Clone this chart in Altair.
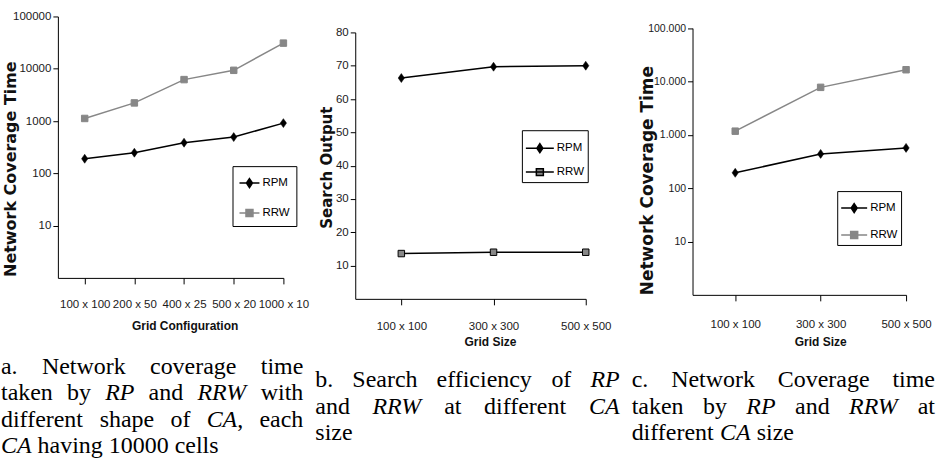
import altair as alt
import pandas as pd

# ---------------- data ----------------
series_names = ["RPM", "RRW"]

grid_configs = ["100 x 100", "200 x 50", "400 x 25", "500 x 20", "1000 x 10"]
a_rpm = [190, 248, 385, 493, 912]
a_rrw = [1120, 2220, 6200, 9330, 30900]

grid_sizes = ["100 x 100", "300 x 300", "500 x 500"]
b_rpm = [66.3, 69.7, 70.0]
b_rrw = [13.6, 14.0, 14.0]

c_rpm = [194, 439, 569]
c_rrw = [1170, 7760, 16600]

log_ticks = [10, 100, 1000, 10000, 100000]
a_tick_labels = ["10", "100", "1000", "10000", "100000"]
b_ticks = [10, 20, 30, 40, 50, 60, 70, 80]
b_tick_labels = ["10", "20", "30", "40", "50", "60", "70", "80"]
c_tick_labels = ["10", "100", "1.000", "10.000", "100.000"]

caption_a = ["a. Network coverage time", "taken by $RP$ and $RRW$ with",
             "different shape of $CA$, each", "$CA$ having 10000 cells"]
caption_b = ["b. Search efficiency of $RP$", "and $RRW$ at different $CA$", "size"]
caption_c = ["c. Network Coverage time", "taken by $RP$ and $RRW$ at", "different $CA$ size"]

# ---------------- style ----------------
SANS = "Liberation Sans Narrow, Arial Narrow, Liberation Sans, Arial, sans-serif"
BOLD_TITLE = "DejaVu Sans, Verdana, sans-serif"
SERIF = "Liberation Serif, Times New Roman, serif"
GREY = "#878787"
CAP_SIZE = 24

dummy = pd.DataFrame({"k": [0]})


def lookup_expr(values, labels):
    vals = "[" + ",".join(str(v) for v in values) + "]"
    labs = "[" + ",".join("'" + l + "'" for l in labels) + "]"
    return labs + "[indexof(" + vals + ", datum.value)]"


def series_frame(cats, rpm, rrw):
    rows = []
    for name, vals in zip(series_names, [rpm, rrw]):
        for i, (cat, v) in enumerate(zip(cats, vals)):
            rows.append({"idx": i, "cat": cat, "series": name, "value": v})
    return pd.DataFrame(rows)


def line_diamond(hh, hw):
    return f"M-1,0L1,0M0,{-hh}L{hw},0L0,{hh}L{-hw},0Z"


def line_square(h):
    return f"M-1,0L1,0M{-h},{-h}L{h},{-h}L{h},{h}L{-h},{h}Z"


DIAMOND = "M0,-1L0.7,0L0,1L-0.7,0Z"


def make_panel(cats, rpm, rrw, cfg):
    df = series_frame(cats, rpm, rrw)
    n = len(cats)

    x_scale = alt.Scale(domain=cfg["x_domain"], range=cfg["x_range"], nice=False, zero=False)
    x_enc = alt.X(
        "idx:Q",
        scale=x_scale,
        axis=alt.Axis(
            values=list(range(n)),
            labelExpr=lookup_expr(list(range(n)), cats),
            title=cfg["x_title"], titleX=cfg["x_title_pos"][0], titleY=cfg["x_title_pos"][1],
            titleAlign="center", titleBaseline="middle", titleFont=SANS,
            titleFontSize=12, titleFontWeight="bold", titleColor="#111111",
            grid=False, domain=True, domainColor="black", domainWidth=1,
            tickSize=6, tickColor="black", tickWidth=1,
            labelFont=SANS, labelFontSize=11.5, labelColor="#1a1a1a",
            labelPadding=cfg["x_label_pad"], labelFlush=False, labelOverlap=False, labelAngle=0,
        ),
    )
    y_scale = alt.Scale(type=cfg["y_type"], domain=cfg["y_domain"], range=cfg["y_range"],
                        nice=False, zero=False)
    y_enc = alt.Y(
        "value:Q",
        scale=y_scale,
        axis=alt.Axis(
            values=cfg["y_ticks"],
            labelExpr=lookup_expr(cfg["y_ticks"], cfg["y_labels"]),
            title=cfg["y_title"], titleX=cfg["y_title_pos"][0], titleY=cfg["y_title_pos"][1],
            titleAlign="center", titleBaseline="middle", titleAngle=270,
            titleFont=BOLD_TITLE, titleFontSize=cfg["y_title_size"], titleFontWeight="bold",
            titleColor="#111111",
            grid=False, domain=True, domainColor="black", domainWidth=1,
            tickSize=5, tickColor="black", tickWidth=1,
            labelFont=SANS, labelFontSize=cfg["y_label_size"], labelColor="#1a1a1a",
            labelPadding=2, labelFlush=False, labelOverlap=False,
        ),
    )

    base = alt.Chart(df)
    line_rpm = base.transform_filter(alt.datum.series == "RPM").mark_line(
        strokeWidth=1.5, color="black").encode(x=x_enc, y=y_enc)
    line_rrw = base.transform_filter(alt.datum.series == "RRW").mark_line(
        strokeWidth=1.5, color=cfg["rrw_line"]).encode(x="idx:Q", y="value:Q")
    pts_rpm = base.transform_filter(alt.datum.series == "RPM").mark_point(
        shape=DIAMOND, filled=True, size=81, fill="black", stroke="black", strokeWidth=0.5,
        opacity=1).encode(x="idx:Q", y="value:Q")
    pts_rrw = base.transform_filter(alt.datum.series == "RRW").mark_point(
        shape="square", filled=True, size=42, fill=GREY, stroke=cfg["rrw_stroke"], strokeWidth=1,
        opacity=1).encode(x="idx:Q", y="value:Q")

    s = cfg["legend_sym"]
    half = s / 2.0
    spaces = " " * cfg["legend_spaces"]
    leg = alt.Legend(
        title=None, orient="none", legendX=cfg["legend_pos"][0], legendY=cfg["legend_pos"][1],
        symbolSize=s * s, symbolStrokeWidth=1.5, symbolOpacity=1,
        labelFont=SANS, labelFontSize=11.5, labelColor="black", labelOffset=2,
        labelExpr="datum.label + '" + spaces + "'",
        strokeColor="black", fillColor="white", padding=cfg["legend_pad"],
        rowPadding=cfg["legend_row_pad"], cornerRadius=0,
    )
    legend_layer = base.mark_point(filled=True, opacity=0).encode(
        x="idx:Q", y="value:Q",
        shape=alt.Shape("series:N", scale=alt.Scale(
            domain=series_names,
            range=[line_diamond(4.5 / half, 3.0 / half), line_square(3.5 / half)]), legend=leg),
        fill=alt.Fill("series:N", scale=alt.Scale(domain=series_names, range=["black", GREY]),
                      legend=leg),
        stroke=alt.Stroke("series:N", scale=alt.Scale(domain=series_names,
                                                      range=["black", cfg["rrw_stroke"]]),
                          legend=leg),
    )

    layers = [line_rpm, line_rrw, pts_rpm, pts_rrw, legend_layer] + cfg.get("extra", [])
    return alt.layer(*layers).properties(width=cfg["width"], height=cfg["height"])


# ---------------- captions (Times metrics) ----------------
TIMES = {" ": 250, ".": 250, ",": 250, "a": 444, "b": 500, "c": 444, "d": 500, "e": 444,
         "f": 333, "g": 500, "h": 500, "i": 278, "k": 500, "l": 278, "m": 778, "n": 500,
         "o": 500, "p": 500, "r": 333, "s": 389, "t": 278, "u": 500, "v": 500, "w": 722,
         "y": 500, "z": 444, "C": 667, "N": 722, "S": 556}
TIMES_IT = {"A": 611, "C": 667, "P": 611, "R": 611, "W": 833}


def text_w(s, italic):
    tot = 0
    for ch in s:
        if italic and ch in TIMES_IT:
            tot += TIMES_IT[ch]
        else:
            tot += TIMES.get(ch, 500)
    return tot * CAP_SIZE / 1000.0


def parse_word(w):
    segs = []
    for k, p in enumerate(w.split("$")):
        if p:
            segs.append((p, k % 2 == 1))
    return segs


def caption_marks(lines, x0, width, y0, lead, dx, dy):
    marks = []
    space = text_w(" ", False)
    for li, line in enumerate(lines):
        words = [parse_word(w) for w in line.split(" ")]
        widths = [sum(text_w(t, it) for t, it in w) for w in words]
        last = li == len(lines) - 1
        if not last and len(words) > 1:
            gap = (width - sum(widths)) / (len(words) - 1)
        else:
            gap = space
        x = x0
        y = y0 + li * lead
        for w, ww in zip(words, widths):
            xs = x
            for t, it in w:
                marks.append(
                    alt.Chart(dummy).mark_text(
                        text=t, align="left", baseline="alphabetic", font=SERIF,
                        fontSize=CAP_SIZE, fontStyle="italic" if it else "normal", color="black",
                    ).encode(x=alt.value(xs - dx), y=alt.value(y - dy))
                )
                xs += text_w(t, it)
            x += ww + gap
    return marks


# panel a origin in the page: (57, 15)
AX, AY = 57, 15
captions = []
captions += caption_marks(caption_a, 0, 303, 373, 26.5, AX, AY)
captions += caption_marks(caption_b, 315, 305, 386.5, 26.5, AX, AY)
captions += caption_marks(caption_c, 632, 304, 386.5, 26.5, AX, AY)
anchor = alt.Chart(dummy).mark_text(text=".", align="left", baseline="top", opacity=0,
                                    fontSize=10).encode(x=alt.value(-AX), y=alt.value(-AY))

cfg_a = dict(width=226, height=262, x_domain=[-0.54, 4], x_range=[0, 226],
             y_type="log", y_domain=[1, 100000], y_range=[262, 0],
             y_ticks=log_ticks, y_labels=a_tick_labels, y_label_size=11.5,
             y_title="Network Coverage Time", y_title_pos=(-47, 152.5), y_title_size=16,
             x_title="Grid Configuration", x_title_pos=(127, 48), x_label_pad=14.5,
             legend_pos=(175, 150), legend_sym=20, legend_pad=6, legend_row_pad=11,
             legend_spaces=0, rrw_line=GREY, rrw_stroke=GREY, extra=captions + [anchor])

cfg_b = dict(width=266, height=283, x_domain=[-0.5, 2], x_range=[0, 231],
             y_type="linear", y_domain=[0, 80], y_range=[283, 16],
             y_ticks=b_ticks, y_labels=b_tick_labels, y_label_size=11.5,
             y_title="Search Output", y_title_pos=(-29, 151), y_title_size=15,
             x_title="Grid Size", x_title_pos=(135, 43), x_label_pad=15.5,
             legend_pos=(167, 114), legend_sym=28, legend_pad=3, legend_row_pad=1,
             legend_spaces=1, rrw_line="black", rrw_stroke="black")

cfg_c = dict(width=214, height=279, x_domain=[-0.5, 2], x_range=[0, 214],
             y_type="log", y_domain=[1, 100000], y_range=[279, 11.7],
             y_ticks=log_ticks, y_labels=c_tick_labels, y_label_size=10.5,
             y_title="Network Coverage Time", y_title_pos=(-45, 164),
             y_title_size=17, x_title="Grid Size", x_title_pos=(128, 47), x_label_pad=17.5,
             legend_pos=(145, 175), legend_sym=26, legend_pad=3, legend_row_pad=5,
             legend_spaces=3, rrw_line=GREY, rrw_stroke=GREY)

panel_a = make_panel(grid_configs, a_rpm, a_rrw, cfg_a)
panel_b = make_panel(grid_sizes, b_rpm, b_rrw, cfg_b)
panel_c = make_panel(grid_sizes, c_rpm, c_rrw, cfg_c)

chart = alt.hconcat(panel_a, panel_b, panel_c, spacing=72, bounds="flush").resolve_scale(
    fill="independent", stroke="independent", shape="independent"
).resolve_legend(
    fill="independent", stroke="independent", shape="independent"
).properties(
    padding=0, background="white"
).configure_view(stroke="transparent")

chart.save("out.html", embed_options={"renderer": "svg", "actions": False})
